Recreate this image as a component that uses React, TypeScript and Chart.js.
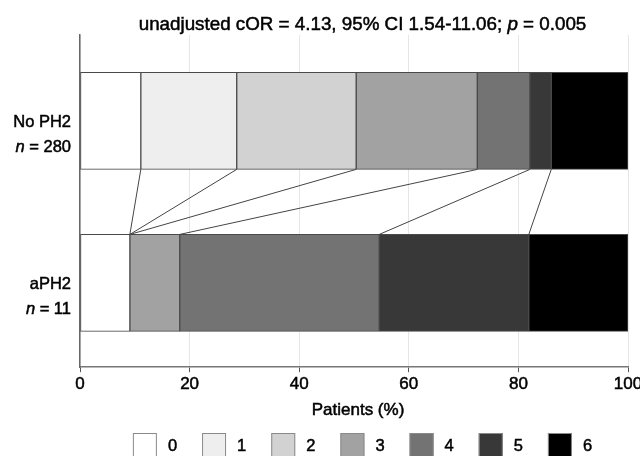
import React, { useEffect, useRef } from "react";
import { Chart, registerables } from "chart.js";

Chart.register(...registerables);

// ---- data ----
const groups = ["No PH2", "aPH2"];
const groupN = [280, 11];
const scores = ["0", "1", "2", "3", "4", "5", "6"];
const noPH2 = [11.1, 17.5, 21.8, 22.1, 9.6, 3.9, 14.0];
const aPH2 = [9.1, 0, 0, 9.1, 36.4, 27.3, 18.1];
const xTicks = [0, 20, 40, 60, 80, 100];
const titleParts = ["unadjusted cOR = 4.13, 95% CI 1.54-11.06; ", "p", " = 0.005"];
const xTitle = "Patients (%)";

// ---- styles ----
const scoreColors = ["#ffffff", "#eeeeee", "#d2d2d2", "#a2a2a2", "#737373", "#383838", "#000000"];
const FONT = '"Liberation Sans", Arial, Helvetica, sans-serif';
const BAR_THICKNESS = 97;
const TEXT_STROKE = 0.5;

function heavyText(ctx: CanvasRenderingContext2D, s: string, x: number, y: number) {
  ctx.fillText(s, x, y);
  ctx.lineWidth = TEXT_STROKE;
  ctx.strokeStyle = ctx.fillStyle as string;
  ctx.strokeText(s, x, y);
}

const titlePlugin = {
  id: "customTitle",
  afterDraw(chart: any) {
    const ctx = chart.ctx;
    ctx.save();
    const size = 18.8;
    const fN = `${size}px ${FONT}`;
    const fI = `italic ${size}px ${FONT}`;
    ctx.font = fN;
    const w0 = ctx.measureText(titleParts[0]).width;
    const w2 = ctx.measureText(titleParts[2]).width;
    ctx.font = fI;
    const w1 = ctx.measureText(titleParts[1]).width;
    let x = chart.width / 2 - (w0 + w1 + w2) / 2;
    const y = 30;
    ctx.fillStyle = "#000";
    ctx.textAlign = "left";
    ctx.textBaseline = "alphabetic";
    ctx.font = fN;
    heavyText(ctx, titleParts[0], x, y);
    x += w0;
    ctx.font = fI;
    heavyText(ctx, titleParts[1], x, y);
    x += w1;
    ctx.font = fN;
    heavyText(ctx, titleParts[2], x, y);

    // x-axis title (drawn here so it can share the text weight)
    const area = chart.chartArea;
    ctx.font = `17px ${FONT}`;
    ctx.textAlign = "center";
    heavyText(ctx, xTitle, (area.left + area.right) / 2 + 4, 415);
    ctx.restore();
  },
};

const groupLabelPlugin = {
  id: "groupLabels",
  afterDraw(chart: any) {
    const ctx = chart.ctx;
    const ys = chart.scales.y;
    const right = chart.chartArea.left - 9;
    ctx.save();
    ctx.fillStyle = "#000";
    ctx.textBaseline = "alphabetic";
    const fN = `16.5px ${FONT}`;
    const fI = `italic 16.5px ${FONT}`;
    groups.forEach((g, i) => {
      const yc = ys.getPixelForValue(i);
      ctx.font = fN;
      ctx.textAlign = "right";
      heavyText(ctx, g, right, yc + 6);
      const rest = ` = ${groupN[i]}`;
      const wr = ctx.measureText(rest).width;
      heavyText(ctx, rest, right, yc + 31);
      ctx.font = fI;
      heavyText(ctx, "n", right - wr, yc + 31);
    });
    ctx.restore();
  },
};

const connectorPlugin = {
  id: "connectors",
  afterDatasetsDraw(chart: any) {
    const ctx = chart.ctx;
    const xs = chart.scales.x;
    const ys = chart.scales.y;
    const yA = ys.getPixelForValue(0) + BAR_THICKNESS / 2;
    const yB = ys.getPixelForValue(1) - BAR_THICKNESS / 2;
    ctx.save();
    ctx.strokeStyle = "#444";
    ctx.lineWidth = 1;
    let c0 = 0;
    let c1 = 0;
    for (let k = 0; k < scores.length - 1; k++) {
      c0 += noPH2[k];
      c1 += aPH2[k];
      ctx.beginPath();
      ctx.moveTo(xs.getPixelForValue(c0), yA);
      ctx.lineTo(xs.getPixelForValue(c1), yB);
      ctx.stroke();
    }
    ctx.restore();
  },
};

const legendPlugin = {
  id: "customLegend",
  afterDraw(chart: any) {
    const ctx = chart.ctx;
    const box = 24;
    const gap = 11;
    const pad = 25;
    const top = 433;
    ctx.save();
    ctx.font = `16.5px ${FONT}`;
    const items = chart.data.datasets.map((d: any) => ({
      label: d.label,
      color: d.backgroundColor,
      w: box + gap + ctx.measureText(d.label).width,
    }));
    const total = items.reduce((s: number, it: any) => s + it.w, 0) + pad * (items.length - 1);
    let x = chart.width / 2 - total / 2;
    items.forEach((it: any) => {
      ctx.fillStyle = it.color;
      ctx.fillRect(x, top, box, box);
      ctx.strokeStyle = "#8a8a8a";
      ctx.lineWidth = 1;
      ctx.strokeRect(x + 0.5, top + 0.5, box - 1, box - 1);
      ctx.fillStyle = "#000";
      ctx.textAlign = "left";
      ctx.textBaseline = "alphabetic";
      heavyText(ctx, it.label, x + box + gap, top + 18);
      x += it.w + pad;
    });
    ctx.restore();
  },
};

export default function App() {
  const ref = useRef<HTMLCanvasElement | null>(null);
  useEffect(() => {
    if (!ref.current) return;
    Chart.defaults.font.family = FONT;
    const chart = new Chart(ref.current, {
      type: "bar",
      data: {
        datasets: scores.map((s, k) => ({
          label: s,
          data: [
            { x: noPH2[k], y: 0 },
            { x: aPH2[k], y: 1 },
          ],
          backgroundColor: scoreColors[k],
          borderColor: "#4a4a4a",
          borderWidth: 1,
          borderSkipped: false,
          barThickness: BAR_THICKNESS,
        })),
      },
      options: {
        indexAxis: "y",
        responsive: false,
        animation: false,
        events: [],
        layout: { padding: { left: 80, right: 97, top: 35, bottom: 51 } },
        plugins: {
          legend: { display: false },
          tooltip: { enabled: false },
          title: { display: false },
        },
        scales: {
          x: {
            type: "linear",
            min: 0,
            max: 100,
            stacked: true,
            afterBuildTicks: (s: any) => {
              s.ticks = xTicks.map((v) => ({ value: v }));
            },
            ticks: {
              font: { size: 17 },
              color: "#000",
              padding: 2,
              maxRotation: 0,
              textStrokeColor: "#000",
              textStrokeWidth: TEXT_STROKE,
            },
            grid: {
              color: "#e6e6e6",
              lineWidth: 1,
              tickColor: "#555",
              tickLength: 5,
            },
            border: { color: "#777", width: 1.5 },
            title: {
              display: true,
              text: xTitle,
              font: { size: 17 },
              color: "rgba(0,0,0,0)",
              padding: { top: 2, bottom: 0 },
            },
          },
          y: {
            type: "linear",
            reverse: true,
            offset: false,
            min: -0.53,
            max: 1.52,
            stacked: true,
            ticks: { display: false },
            grid: { display: false, drawTicks: false, tickLength: 0, offset: false },
            border: { color: "#666", width: 1.5 },
          },
        },
      } as any,
      plugins: [connectorPlugin, titlePlugin, groupLabelPlugin, legendPlugin],
    });
    return () => chart.destroy();
  }, []);
  return (
    <div style={{ position: "fixed", left: 0, top: 0, width: 725, height: 470, background: "#fff" }}>
      <canvas ref={ref} width={725} height={470} />
    </div>
  );
}
